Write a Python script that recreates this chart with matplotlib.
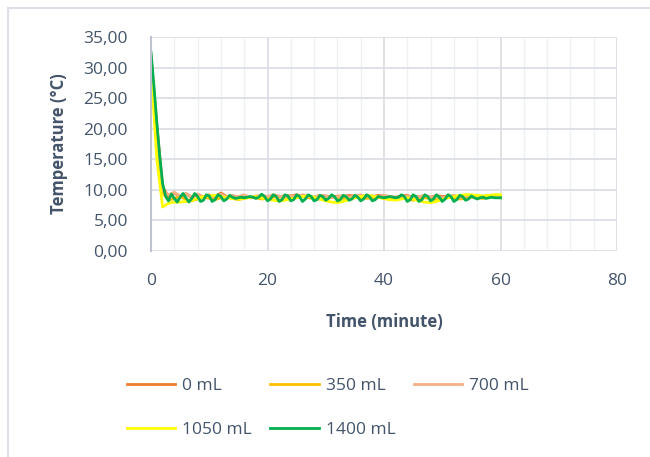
import numpy as np
import matplotlib
matplotlib.use("Agg")
from matplotlib import pyplot as plt
from matplotlib.ticker import MultipleLocator, FuncFormatter
from matplotlib.lines import Line2D

# time axis (minutes), 1-min steps for most series, 0.5-min for 1400 mL
time_1 = list(range(0, 61))
time_05 = [i * 0.5 for i in range(0, 121)]

temp_0 = [32.0, 20.5, 10.5, 8.9, 9.5, 8.8, 9.4, 8.7, 9.3, 8.8, 9.1,
          8.9, 9.5, 8.9, 9.0, 8.8, 9.1, 8.7, 8.8, 9.0, 8.9,
          9.0, 8.8, 9.1, 9.0, 9.2, 8.9, 9.0, 8.8, 9.1, 9.0,
          8.8, 9.0, 8.9, 9.1, 9.0, 8.8, 9.0, 8.9, 9.1, 9.0,
          8.9, 8.8, 9.0, 9.1, 8.7, 8.9, 9.0, 8.8, 9.1, 8.9,
          9.0, 8.8, 9.0, 9.1, 8.9, 9.0, 8.8, 9.0, 9.1, 9.0]
temp_350 = [31.5, 19.0, 9.5, 8.3, 8.6, 8.9, 8.4, 8.2, 8.5, 8.8, 8.6,
            8.4, 8.7, 8.9, 8.6, 8.4, 8.6, 8.8, 8.7, 8.5, 8.6,
            8.8, 8.9, 8.7, 8.6, 8.8, 8.9, 8.7, 8.6, 8.5, 8.7,
            8.9, 8.8, 8.6, 8.7, 8.9, 8.8, 8.6, 8.7, 8.8, 8.6,
            8.4, 8.6, 8.8, 8.5, 8.3, 8.5, 8.7, 8.6, 8.4, 8.6,
            8.8, 8.7, 8.5, 8.6, 8.8, 8.7, 8.6, 8.8, 8.9, 8.8]
temp_700 = [31.0, 19.5, 10.0, 9.2, 9.6, 9.0, 9.4, 8.9, 9.3, 8.8, 9.2,
            8.9, 9.3, 8.8, 9.1, 8.9, 9.2, 8.7, 9.0, 9.1, 8.9,
            9.2, 9.0, 8.8, 9.1, 8.9, 9.2, 9.0, 8.8, 9.1, 9.0,
            8.7, 8.9, 9.1, 8.8, 9.0, 9.2, 8.9, 9.0, 8.8, 9.1,
            8.9, 8.6, 8.8, 9.0, 8.7, 8.9, 9.1, 8.8, 9.0, 8.7,
            8.9, 9.1, 8.8, 9.0, 9.1, 8.9, 9.0, 9.1, 8.9, 9.0]
temp_1050 = [30.0, 15.0, 7.2, 7.8, 8.0, 8.0, 8.1, 8.3, 8.6, 8.9, 9.0,
             9.1, 8.9, 8.7, 8.6, 8.5, 8.6, 8.8, 8.9, 8.7, 8.5,
             8.3, 8.2, 8.3, 8.5, 8.7, 8.9, 9.0, 8.8, 8.5, 8.2,
             8.0, 7.9, 8.1, 8.4, 8.7, 8.9, 9.1, 9.0, 8.8, 8.6,
             8.4, 8.3, 8.5, 8.7, 8.5, 8.2, 8.0, 7.9, 8.1, 8.4,
             8.7, 8.9, 9.1, 9.2, 9.2, 9.1, 9.0, 9.1, 9.2, 9.2]
temp_1400 = [32.5, 27.0, 21.0, 15.5, 11.0, 9.0, 8.2, 9.3, 8.6, 8.0,
             8.8, 9.4, 8.7, 8.0, 8.6, 9.4, 8.9, 8.1, 8.3, 9.2,
             9.0, 8.1, 8.4, 9.2, 8.9, 8.2, 8.5, 9.1, 8.8, 8.6,
             8.7, 8.8, 8.7, 8.8, 8.9, 8.8, 8.6, 8.8, 9.3, 8.9,
             8.2, 8.5, 9.2, 8.9, 8.1, 8.4, 9.2, 9.0, 8.2, 8.4,
             9.2, 8.9, 8.1, 8.5, 9.2, 8.9, 8.2, 8.4, 9.1, 8.9,
             8.3, 8.6, 9.2, 8.9, 8.2, 8.4, 9.1, 8.9, 8.3, 8.5,
             9.1, 8.8, 8.2, 8.5, 9.2, 8.9, 8.2, 8.4, 8.9, 8.8,
             8.7, 8.8, 8.9, 8.8, 8.7, 8.8, 9.2, 8.9, 8.1, 8.4,
             9.2, 8.9, 8.1, 8.4, 9.2, 8.9, 8.2, 8.5, 9.2, 8.8,
             8.1, 8.5, 9.2, 8.9, 8.1, 8.4, 9.1, 8.9, 8.3, 8.5,
             9.0, 8.7, 8.5, 8.7, 8.8, 8.6, 8.7, 8.8, 8.7, 8.7,
             8.7]

labels = ["0 mL", "350 mL", "700 mL", "1050 mL", "1400 mL"]
colors = ["#ED7D31", "#FFC000", "#F4B183", "#FFFF00", "#00B050"]

plt.rcParams['font.family'] = ['Open Sans', 'DejaVu Sans']
text_col = "#44546A"
grid_major = "#D9DCE3"
grid_minor = "#EEF0F4"

fig = plt.figure(figsize=(6.5, 4.57), dpi=100)
ax = fig.add_axes([151 / 650, 1 - 251 / 457, 466 / 650, 214 / 457])

# outer chart border (only left and top edges visible)
fig.add_artist(Line2D([8 / 650, 8 / 650], [0, 1 - 8 / 457], transform=fig.transFigure,
                      color="#DDE0E6", lw=1.5))
fig.add_artist(Line2D([8 / 650, 1], [1 - 8 / 457, 1 - 8 / 457], transform=fig.transFigure,
                      color="#DDE0E6", lw=1.5))

series = [(time_1, temp_0), (time_1, temp_350), (time_1, temp_700),
          (time_1, temp_1050), (time_05, temp_1400)]
handles = []
for (t, y), lab, c in zip(series, labels, colors):
    h, = ax.plot(t, y, color=c, lw=2.0, label=lab)
    handles.append(h)

ax.set_xlim(0, 80)
ax.set_ylim(0, 35)
ax.xaxis.set_major_locator(MultipleLocator(20))
ax.xaxis.set_minor_locator(MultipleLocator(4))
ax.yaxis.set_major_locator(MultipleLocator(5))
ax.yaxis.set_major_formatter(FuncFormatter(lambda v, p: f"{v:.2f}".replace(".", ",")))

ax.grid(True, which="major", color=grid_major, lw=1.2)
ax.grid(True, which="minor", axis="x", color=grid_minor, lw=1.0)
ax.set_axisbelow(True)
for s in ["top", "right", "bottom"]:
    ax.spines[s].set_visible(False)
ax.spines["left"].set_color("#BFC5D0")
ax.spines["left"].set_linewidth(1.5)
ax.tick_params(which="both", length=0)
ax.tick_params(axis="y", labelsize=12.5, labelcolor=text_col, pad=16.5)
ax.tick_params(axis="x", labelsize=12.5, labelcolor=text_col, pad=16)

ax.set_xlabel("Time (minute)", fontsize=12, fontweight="bold", color=text_col, labelpad=17)
ax.set_ylabel("Temperature (°C)", fontsize=12, fontweight="bold", color=text_col, labelpad=11)

# legend row-wise: reorder for column-wise filling
order = [0, 3, 1, 4, 2]
fig.legend([handles[i] for i in order], [labels[i] for i in order], ncol=3,
           loc="upper left", bbox_to_anchor=(111 / 650, 1 - 362 / 457), frameon=False,
           fontsize=12.5, labelcolor=text_col, handlelength=2.8, handletextpad=0.4,
           columnspacing=1.05, labelspacing=1.6)

fig.savefig("out.png", dpi=100)
